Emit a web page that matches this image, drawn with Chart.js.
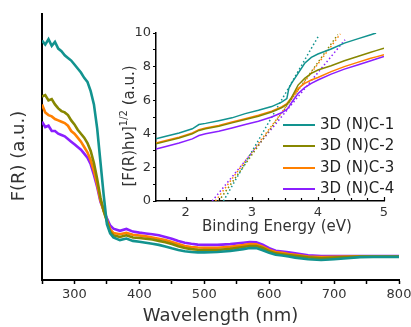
<!DOCTYPE html>
<html><head><meta charset="utf-8">
<script src="https://cdn.jsdelivr.net/npm/chart.js@4/dist/chart.umd.min.js"></script>
<style>
html,body{margin:0;padding:0;background:#fff;}
#wrap{position:relative;width:411px;height:327px;}
#wrap canvas{position:absolute;left:0;top:0;}
</style></head>
<body><div id="wrap"><canvas id="main" width="411" height="327"></canvas><canvas id="inset" width="411" height="327"></canvas></div>
<script>
// ---- Main spectrum data (wavelength in nm, F(R) in a.u.) ----
const wavelengths = [250,255,260,265,270,275,280,285,290,295,300,305,310,315,320,325,330,335,340,345,350,355,360,370,380,390,400,410,420,430,440,450,460,470,480,490,500,520,540,560,570,580,590,600,610,620,630,640,660,680,700,720,740,760,780,800];
const fr_C1 = [9.0,8.85,9.05,8.8,8.95,8.7,8.6,8.45,8.35,8.25,8.1,7.95,7.8,7.6,7.45,7.1,6.6,5.7,4.45,3.2,2.1,1.75,1.6,1.5,1.56,1.47,1.44,1.4,1.36,1.32,1.26,1.19,1.13,1.08,1.05,1.04,1.04,1.05,1.09,1.16,1.2,1.2,1.12,1.02,0.95,0.92,0.88,0.84,0.78,0.75,0.78,0.82,0.86,0.87,0.87,0.87];
const fr_C2 = [6.9,6.95,6.75,6.8,6.6,6.45,6.35,6.3,6.2,6.0,5.85,5.65,5.5,5.35,5.15,4.85,4.4,3.8,3.1,2.6,2.2,1.82,1.68,1.62,1.68,1.6,1.58,1.55,1.52,1.47,1.42,1.35,1.27,1.2,1.16,1.14,1.13,1.13,1.17,1.24,1.28,1.28,1.2,1.08,1.0,0.97,0.94,0.91,0.85,0.82,0.84,0.86,0.88,0.88,0.88,0.88];
const fr_C3 = [6.6,6.3,6.2,6.15,6.05,6.0,5.95,5.9,5.8,5.6,5.5,5.35,5.2,5.0,4.8,4.5,4.1,3.6,3.0,2.6,2.25,1.9,1.77,1.72,1.77,1.7,1.67,1.64,1.6,1.55,1.5,1.43,1.35,1.28,1.24,1.22,1.21,1.21,1.25,1.31,1.35,1.34,1.25,1.13,1.05,1.02,0.98,0.95,0.88,0.86,0.87,0.88,0.89,0.89,0.88,0.88];
const fr_C4 = [5.95,5.75,5.8,5.6,5.6,5.5,5.45,5.4,5.3,5.2,5.1,5.0,4.9,4.75,4.6,4.35,3.95,3.5,2.95,2.62,2.32,2.05,1.93,1.85,1.92,1.82,1.78,1.75,1.72,1.68,1.62,1.55,1.47,1.4,1.36,1.33,1.32,1.32,1.35,1.4,1.43,1.42,1.33,1.2,1.1,1.07,1.04,1.0,0.93,0.9,0.9,0.9,0.9,0.9,0.9,0.9];

// ---- Inset Tauc plot data (energy in eV, [F(R)hν]^1/2) ----
const energy = [1.55,1.7,1.9,2.1,2.2,2.3,2.5,2.7,2.9,3.1,3.3,3.45,3.53,3.56,3.6,3.7,3.8,3.9,4.0,4.2,4.4,4.6,4.8,4.88,5.0];
const tauc_C1 = [3.7,3.85,4.05,4.3,4.55,4.62,4.78,4.95,5.2,5.4,5.62,5.88,6.1,6.7,7.0,7.6,8.2,8.55,8.75,9.05,9.4,9.65,9.9,10.0,null];
const tauc_C2 = [3.4,3.55,3.75,4.0,4.2,4.3,4.45,4.65,4.85,5.05,5.3,5.55,5.75,5.9,6.15,6.9,7.3,7.6,7.8,8.05,8.35,8.6,8.85,8.95,9.1];
const tauc_C3 = [3.45,3.6,3.8,4.05,4.25,4.35,4.5,4.7,4.9,5.1,5.35,5.6,5.8,5.95,6.15,6.7,7.0,7.2,7.35,7.7,8.0,8.25,8.5,8.58,8.7];
const tauc_C4 = [3.1,3.25,3.45,3.7,3.9,4.0,4.15,4.35,4.55,4.75,5.0,5.25,5.45,5.6,5.85,6.4,6.75,7.0,7.2,7.55,7.85,8.1,8.35,8.45,8.6];
// tangent (band-gap) lines: [x0, x1], [y0, y1]
const tangentX_C1 = [2.57, 4.02], tangentY_C1 = [0, 9.9];
const tangentX_C2 = [2.50, 4.30], tangentY_C2 = [0, 9.9];
const tangentX_C3 = [2.45, 4.34], tangentY_C3 = [0, 9.95];
const tangentX_C4 = [2.40, 4.41], tangentY_C4 = [0, 9.6];

const seriesNames = ['3D (N)C-1','3D (N)C-2','3D (N)C-3','3D (N)C-4'];
const colors = ['#12938f','#878700','#ff8000','#8a1fff'];
const mainX = [300,400,500,600,700,800];
const insetYTicks = [0,2,4,6,8,10];
const insetXTicks = [2,3,4,5];

const FONT = '"DejaVu Sans", sans-serif';
const TXT = '#333';
const pts = (xs, ys) => xs.map((x,i)=>({x:x, y:ys[i]}));

// ---------- Main chart ----------
const mainTitles = {
  id:'mainTitles',
  afterDraw(chart){
    const c = chart.ctx, a = chart.chartArea;
    c.save();
    c.fillStyle = TXT;
    c.textAlign = 'center'; c.textBaseline = 'middle';
    c.font = '18px ' + FONT;
    c.fillText('Wavelength (nm)', (a.left + a.right)/2, 316);
    c.translate(19, 156); c.rotate(-Math.PI/2);
    c.fillText('F(R) (a.u.)', 0, 0);
    c.restore();
  }
};
const mainSets = [fr_C1, fr_C2, fr_C3, fr_C4].map((d,i)=>({
  label: seriesNames[i], data: pts(wavelengths, d),
  borderColor: colors[i], borderWidth: 2.6, pointRadius: 0, tension: 0, fill: false
}));
new Chart(document.getElementById('main'), {
  type:'line',
  data:{datasets: mainSets},
  options:{
    responsive:false, animation:false, devicePixelRatio:1,
    layout:{padding:{left:0, top:14, right:12, bottom:0}},
    plugins:{legend:{display:false}, tooltip:{enabled:false}},
    scales:{
      x:{type:'linear', min:250, max:800,
        afterBuildTicks: s => { s.ticks = []; for (let v=250; v<=800; v+=50) s.ticks.push({value:v}); },
        ticks:{autoSkip:false, maxRotation:0, padding:3, color:TXT, font:{size:13, family:FONT},
          callback: v => mainX.includes(v) ? String(v) : ''},
        grid:{display:true, drawOnChartArea:false, drawTicks:true, tickLength:4, tickColor:'#000', tickWidth:1.5},
        border:{display:true, color:'#000', width:2},
        afterFit: s => { s.height = 47; s.paddingLeft = 0; s.paddingRight = 0; }
      },
      y:{type:'linear', min:0, max:10,
        ticks:{display:false}, grid:{display:false},
        border:{display:true, color:'#000', width:2},
        afterFit: s => { s.width = 42; s.paddingTop = 0; s.paddingBottom = 0; }
      }
    }
  },
  plugins:[mainTitles]
});

// ---------- Inset chart ----------
const insetDeco = {
  id:'insetDeco',
  afterDraw(chart){
    const c = chart.ctx, a = chart.chartArea, xs = chart.scales.x;
    c.save();
    // inward minor/major ticks on energy axis
    c.strokeStyle = '#000'; c.lineWidth = 1.2;
    for (let k = 7; k <= 20; k++) {
      const v = k*0.25;
      const px = Math.round(xs.getPixelForValue(v)) + 0.5;
      const len = (k % 4 === 0) ? 4 : 3;
      c.beginPath(); c.moveTo(px, a.bottom); c.lineTo(px, a.bottom - len); c.stroke();
    }
    // x title
    c.fillStyle = TXT; c.textAlign = 'center'; c.textBaseline = 'middle';
    c.font = '15px ' + FONT;
    c.fillText('Binding Energy (eV)', 277, 227);
    // y title with superscript, rotated
    const parts = [
      {t:'[F(R)h', f:'15px ' + FONT, dy:0},
      {t:'ν', f:'italic 15px ' + FONT, dy:0},
      {t:']', f:'15px ' + FONT, dy:0},
      {t:'1/2', f:'10px ' + FONT, dy:-6},
      {t:' (a.u.)', f:'15px ' + FONT, dy:0}
    ];
    let total = 0;
    parts.forEach(p => { c.font = p.f; p.w = c.measureText(p.t).width; total += p.w; });
    c.translate(130, 126); c.rotate(-Math.PI/2);
    c.textAlign = 'left';
    let x = -total/2;
    parts.forEach(p => { c.font = p.f; c.fillText(p.t, x, p.dy); x += p.w; });
    c.restore();
    // legend
    c.save();
    const ly = [125, 146, 168, 189];
    c.font = '15px ' + FONT; c.textBaseline = 'middle'; c.textAlign = 'left';
    seriesNames.forEach((n,i)=>{
      c.strokeStyle = colors[i]; c.lineWidth = 2;
      c.beginPath(); c.moveTo(283, ly[i]); c.lineTo(315, ly[i]); c.stroke();
      c.fillStyle = '#222';
      c.fillText(n, 320, ly[i]);
    });
    c.restore();
  }
};
const taucSets = [tauc_C1, tauc_C2, tauc_C3, tauc_C4].map((d,i)=>({
  label: seriesNames[i], data: pts(energy, d),
  borderColor: colors[i], borderWidth: 1.5, pointRadius: 0, tension: 0, fill: false, spanGaps:false
}));
const tanX = [tangentX_C1, tangentX_C2, tangentX_C3, tangentX_C4];
const tanY = [tangentY_C1, tangentY_C2, tangentY_C3, tangentY_C4];
const tanSets = tanX.map((xs,i)=>({
  label: 'fit ' + seriesNames[i], data: pts(xs, tanY[i]),
  borderColor: colors[i], borderWidth: 1.5, borderDash:[1.5,2.5], pointRadius: 0, tension: 0, fill: false
}));
new Chart(document.getElementById('inset'), {
  type:'line',
  data:{datasets: [...taucSets, ...tanSets]},
  options:{
    responsive:false, animation:false, devicePixelRatio:1,
    layout:{padding:{left:126, top:33, right:27, bottom:0}},
    plugins:{legend:{display:false}, tooltip:{enabled:false}},
    scales:{
      x:{type:'linear', min:1.55, max:5,
        afterBuildTicks: s => { s.ticks = insetXTicks.map(v=>({value:v})); },
        ticks:{autoSkip:false, maxRotation:0, padding:4, color:TXT, font:{size:13, family:FONT}},
        grid:{display:true, drawOnChartArea:false, drawTicks:false},
        border:{display:true, color:'#000', width:1.5},
        afterFit: s => { s.height = 126; s.paddingLeft = 0; s.paddingRight = 0; }
      },
      y:{type:'linear', min:0, max:10,
        afterBuildTicks: s => { s.ticks = []; for (let v=0; v<=10; v++) s.ticks.push({value:v}); },
        ticks:{autoSkip:false, padding:2, color:TXT, font:{size:13, family:FONT},
          callback: v => insetYTicks.includes(v) ? String(v) : ''},
        grid:{display:true, drawOnChartArea:false, drawTicks:true, tickLength:3, tickColor:'#000', tickWidth:1.2},
        border:{display:true, color:'#000', width:1.5},
        afterFit: s => { s.width = 30; s.paddingTop = 0; s.paddingBottom = 0; }
      }
    }
  },
  plugins:[insetDeco]
});
</script>
</body></html>
